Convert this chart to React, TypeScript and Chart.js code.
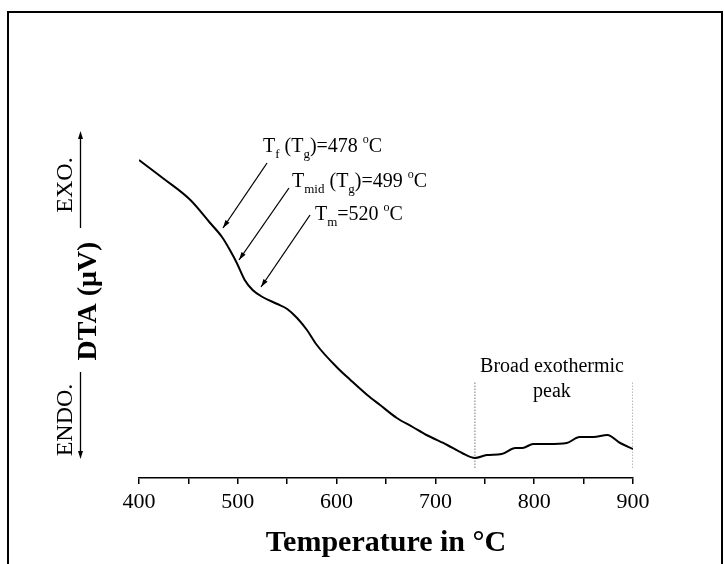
import React, { useEffect, useRef } from 'react';
import { Chart, registerables } from 'chart.js';

Chart.register(...registerables);

// Temperature (°C) of each read point of the DTA trace
const temperatures = [400, 424, 452, 472, 484, 492, 499, 507, 515, 525, 540, 550, 560, 570, 580, 600, 614, 631, 644, 661, 677, 691, 712, 727, 740, 752, 767, 781, 788, 799, 814, 833, 846, 860, 874, 887, 900];
// DTA signal (arbitrary µV units)
const dtaValues = [31.8, 30.0, 27.8, 25.5, 24.1, 22.8, 21.5, 19.8, 18.8, 18.1, 17.4, 16.9, 16.0, 14.8, 13.3, 11.1, 9.8, 8.3, 7.3, 6.0, 5.1, 4.3, 3.3, 2.5, 2.0, 2.3, 2.4, 3.0, 3.0, 3.4, 3.4, 3.5, 4.1, 4.1, 4.3, 3.5, 2.9];
// labelled x ticks
const xTickLabels = [400, 500, 600, 700, 800, 900];
// dotted boundaries of the broad exothermic peak
const peakBounds = [740, 900];
const peakLineRange = [1.0, 9.6];
// annotation arrows: [tailT, tailV, tipT, tipV]
const arrowTails = [[529.6, 31.5], [551.8, 29.0], [573.1, 26.3]];
const arrowTips = [[485, 25.0], [501.2, 21.8], [523.5, 19.1]];
// annotation text anchors (left, baseline) in data units
const labelAnchors = [[525.5, 32.6], [554.9, 29.1], [578.1, 25.8]];
const labelParts: [string, string][][] = [
  [['T', 'n'], ['f', 'sub'], [' (T', 'n'], ['g', 'sub'], [')=478 ', 'n'], ['o', 'sup'], ['C', 'n']],
  [['T', 'n'], ['mid', 'sub'], [' (T', 'n'], ['g', 'sub'], [')=499 ', 'n'], ['o', 'sup'], ['C', 'n']],
  [['T', 'n'], ['m', 'sub'], ['=520 ', 'n'], ['o', 'sup'], ['C', 'n']],
];
const peakText = ['Broad exothermic', 'peak'];
const peakTextAnchor = [[818, 10.6], [818, 8.1]];

const SERIF = '"Liberation Serif", "Times New Roman", serif';

function arrowHead(ctx: CanvasRenderingContext2D, x1: number, y1: number, x2: number, y2: number, len: number, half: number) {
  const a = Math.atan2(y2 - y1, x2 - x1);
  ctx.beginPath();
  ctx.moveTo(x2, y2);
  ctx.lineTo(x2 - len * Math.cos(a) + half * Math.sin(a), y2 - len * Math.sin(a) - half * Math.cos(a));
  ctx.lineTo(x2 - len * Math.cos(a) - half * Math.sin(a), y2 - len * Math.sin(a) + half * Math.cos(a));
  ctx.closePath();
  ctx.fill();
}

const decorPlugin = {
  id: 'decor',
  afterDraw(chart: any) {
    const ctx: CanvasRenderingContext2D = chart.ctx;
    const xs = chart.scales.x;
    const ys = chart.scales.y;
    ctx.save();
    ctx.fillStyle = '#000';
    ctx.strokeStyle = '#000';

    // frame
    ctx.lineWidth = 2;
    ctx.strokeRect(8, 12, 714, 620);

    // annotation texts
    ctx.textAlign = 'left';
    ctx.textBaseline = 'alphabetic';
    labelParts.forEach((parts, i) => {
      let cx = xs.getPixelForValue(labelAnchors[i][0]);
      const by = ys.getPixelForValue(labelAnchors[i][1]);
      for (const [t, kind] of parts) {
        let dy = 0;
        if (kind === 'sub') { ctx.font = `13px ${SERIF}`; dy = 6; }
        else if (kind === 'sup') { ctx.font = `12px ${SERIF}`; dy = -9; }
        else { ctx.font = `20px ${SERIF}`; }
        ctx.fillText(t, cx, by + dy);
        cx += ctx.measureText(t).width;
      }
    });

    // arrows
    ctx.lineWidth = 1.3;
    arrowTails.forEach((tail, i) => {
      const x1 = xs.getPixelForValue(tail[0]);
      const y1 = ys.getPixelForValue(tail[1]);
      const x2 = xs.getPixelForValue(arrowTips[i][0]);
      const y2 = ys.getPixelForValue(arrowTips[i][1]);
      ctx.beginPath();
      ctx.moveTo(x1, y1);
      ctx.lineTo(x2, y2);
      ctx.stroke();
      arrowHead(ctx, x1, y1, x2, y2, 8, 2.5);
    });

    // peak text
    ctx.font = `20px ${SERIF}`;
    ctx.textAlign = 'center';
    peakText.forEach((t, i) => {
      ctx.fillText(t, xs.getPixelForValue(peakTextAnchor[i][0]), ys.getPixelForValue(peakTextAnchor[i][1]));
    });

    // y axis label group
    const ax = 80.5;
    ctx.lineWidth = 1.3;
    ctx.beginPath();
    ctx.moveTo(ax, 138);
    ctx.lineTo(ax, 228);
    ctx.moveTo(ax, 372);
    ctx.lineTo(ax, 452);
    ctx.stroke();
    arrowHead(ctx, ax, 200, ax, 131, 8, 2.5);
    arrowHead(ctx, ax, 400, ax, 459, 8, 2.5);

    const rot = (text: string, x: number, y: number, font: string) => {
      ctx.save();
      ctx.translate(x, y);
      ctx.rotate(-Math.PI / 2);
      ctx.font = font;
      ctx.textAlign = 'center';
      ctx.textBaseline = 'alphabetic';
      ctx.fillText(text, 0, 0);
      ctx.restore();
    };
    rot('DTA (\u03BCV)', 96, 301, `bold 28px ${SERIF}`);
    rot('EXO.', 72, 185, `24px ${SERIF}`);
    rot('ENDO.', 72, 420, `24px ${SERIF}`);

    ctx.restore();
  },
};

export default function App() {
  const canvasRef = useRef<HTMLCanvasElement | null>(null);

  useEffect(() => {
    if (!canvasRef.current) return;
    const points = temperatures.map((t, i) => ({ x: t, y: dtaValues[i] }));
    const boundSets = peakBounds.map((b) => ({
      data: [{ x: b, y: peakLineRange[0] }, { x: b, y: peakLineRange[1] }],
      borderColor: '#777',
      borderWidth: 1,
      borderDash: [1.5, 1.5],
      pointRadius: 0,
      fill: false,
    }));
    const chart = new Chart(canvasRef.current, {
      type: 'line',
      data: {
        datasets: [
          {
            data: points,
            borderColor: '#000',
            borderWidth: 2,
            pointRadius: 0,
            fill: false,
            cubicInterpolationMode: 'monotone',
          } as any,
          ...(boundSets as any[]),
        ],
      },
      options: {
        responsive: false,
        animation: false,
        devicePixelRatio: 1,
        layout: { padding: { left: 139, right: 92, top: 128, bottom: 0 } },
        plugins: { legend: { display: false }, tooltip: { enabled: false }, title: { display: false } },
        scales: {
          x: {
            type: 'linear',
            position: 'bottom',
            min: 400,
            max: 900,
            afterFit: (s: any) => { s.height = 86; },
            grid: { drawOnChartArea: false, drawTicks: true, tickLength: 6, color: '#000', lineWidth: 1.5 },
            border: { display: true, color: '#000', width: 1.5 },
            ticks: {
              stepSize: 50,
              autoSkip: false,
              maxRotation: 0,
              minRotation: 0,
              padding: 5,
              color: '#000',
              font: { family: SERIF, size: 22 },
              callback: (v: any) => (xTickLabels.includes(Number(v)) ? String(v) : ''),
            },
            title: {
              display: true,
              text: 'Temperature in \u00B0C',
              color: '#000',
              font: { family: SERIF, size: 30, weight: 'bold' },
              padding: { top: 0, bottom: 3 },
            },
          },
          y: {
            type: 'linear',
            display: false,
            min: 0,
            max: 35,
          },
        },
      } as any,
      plugins: [decorPlugin],
    });
    return () => chart.destroy();
  }, []);

  return (
    <div style={{ position: 'absolute', left: 0, top: 0, width: 725, height: 564, background: '#fff' }}>
      <canvas ref={canvasRef} width={725} height={564} style={{ display: 'block' }} />
    </div>
  );
}
